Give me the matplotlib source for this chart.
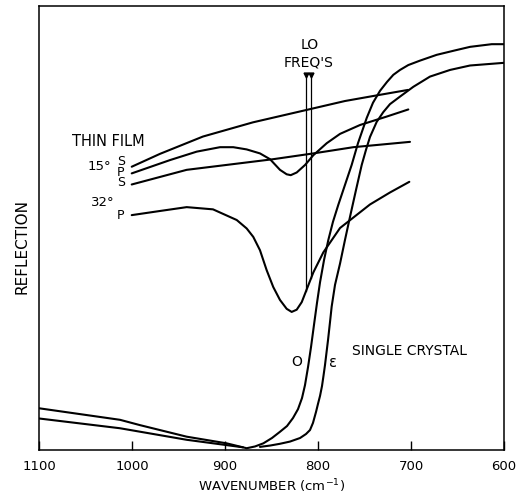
import numpy as np
import matplotlib
matplotlib.use("Agg")
import matplotlib.pyplot as plt

plt.rcParams['font.family'] = ['DejaVu Sans']

# ---- data (wavenumber in cm^-1, reflection in arbitrary units 0-100) ----
# Thin film, 15 deg, s-polarisation
s15_wn = [1000.3, 969.9, 923.7, 869.9, 812.1, 771.0, 733.3, 703.2]
s15_r = [63.8, 66.7, 70.6, 73.8, 76.6, 78.6, 80.0, 81.1]

# Thin film, 15 deg, p-polarisation
p15_wn = [1000.3, 959.1, 930.4, 905.4, 891.1, 876.7, 862.4, 851.6, 840.9,
          833.7, 829.3, 822.9, 813.9, 805.0, 790.6, 776.3, 754.8, 726.1, 702.9]
p15_r = [62.3, 65.3, 67.2, 68.2, 68.2, 67.7, 66.8, 65.5, 63.1,
         62.1, 61.9, 62.5, 64.2, 66.4, 69.1, 71.2, 73.2, 75.1, 76.7]

# Thin film, 32 deg, s-polarisation
s32_wn = [1000.3, 941.2, 848.1, 805.0, 762.0, 701.1]
s32_r = [59.8, 63.1, 65.5, 66.8, 68.2, 69.4]

# Thin film, 32 deg, p-polarisation
p32_wn = [1000.3, 971.0, 941.2, 912.9, 887.4, 876.7, 869.6, 862.4, 855.2,
          848.1, 840.9, 833.7, 828.3, 822.9, 817.5, 812.1, 805.0, 794.3,
          776.3, 744.1, 722.6, 701.8]
p32_r = [52.9, 53.8, 54.7, 54.2, 51.8, 49.9, 48.0, 45.0, 40.5,
         36.7, 33.8, 31.8, 31.1, 31.6, 33.3, 36.2, 40.0, 44.5,
         50.0, 55.3, 58.0, 60.4]

# Single crystal, ordinary ray (O)
o_wn = [1100, 1012.9, 991.4, 941.2, 898.2, 876.7, 867.7, 858.8, 849.5, 840.9,
        833.3, 826.9, 821.5, 817.2, 814.0, 810.7, 807.5, 804.3, 801.1, 797.8,
        793.5, 788.9, 783.9, 778.2, 771.0, 763.8, 757.0, 747.6, 740.9, 733.3,
        725.8, 719.0, 711.8, 702.9, 690.3, 672.4, 652.7, 636.5, 613.2, 600]
o_r = [9.4, 6.8, 5.6, 3.0, 1.5, 0.4, 0.8, 1.5, 2.7, 4.1,
       5.4, 7.2, 9.2, 11.7, 14.6, 18.7, 23.2, 28.2, 33.1, 37.8,
       42.8, 47.3, 51.4, 55.2, 59.7, 64.2, 69.1, 74.8, 78.2, 80.9,
       82.9, 84.5, 85.6, 86.7, 87.7, 89.0, 90.0, 90.8, 91.4, 91.4]

# Single crystal, extraordinary ray (epsilon): low-frequency tail and rising edge
e_low_wn = [1100, 1012.9, 941.2, 898.2, 880.6]
e_low_r = [7.1, 4.9, 2.3, 1.1, 0.6]
e_wn = [862.4, 851.6, 840.9, 830.1, 819.3, 812.9, 808.6, 805.4, 802.1, 800.0,
        797.8, 795.7, 794.1, 792.5, 791.4, 789.2, 787.1, 785.3, 781.7, 776.3,
        771.0, 765.6, 759.1, 753.0, 748.4, 744.1, 736.9, 729.8, 722.6, 711.8,
        697.5, 679.6, 658.0, 636.5, 600]
e_r = [0.7, 1.0, 1.4, 1.9, 2.7, 3.6, 4.5, 6.1, 8.6, 10.4,
       12.2, 14.4, 16.7, 19.1, 21.0, 24.8, 28.8, 32.3, 37.2, 42.0,
       47.3, 52.5, 58.6, 64.2, 67.6, 70.5, 73.9, 76.1, 77.9, 79.6,
       81.8, 84.1, 85.6, 86.6, 87.2]

# Longitudinal optical (LO) frequencies
lo_wn = [812.9, 807.2]
lo_top = 84.5

xticks = [1100, 1000, 900, 800, 700, 600]
xtick_labels = ['1100', '1000', '900', '800', '700', '600']

# ---- figure ----
W, H = 524, 498
fig = plt.figure(figsize=(W / 100, H / 100), dpi=100)
ax = fig.add_axes([39 / W, (H - 450) / H, (504 - 39) / W, (450 - 6) / H])

lw = 1.5
kw = dict(color='black', lw=lw, solid_capstyle='round', solid_joinstyle='round')
ax.plot(s15_wn, s15_r, **kw)
ax.plot(p15_wn, p15_r, **kw)
ax.plot(s32_wn, s32_r, **kw)
ax.plot(p32_wn, p32_r, **kw)
ax.plot(o_wn, o_r, **kw)
ax.plot(e_low_wn, e_low_r, **kw)
ax.plot(e_wn, e_r, **kw)

# LO frequency markers: vertical lines down to the 32 deg p curve
p32_wn_arr = np.array(p32_wn)[::-1]
p32_r_arr = np.array(p32_r)[::-1]
for w in lo_wn:
    bottom = np.interp(w, p32_wn_arr, p32_r_arr)
    ax.plot([w, w], [bottom, lo_top], color='black', lw=0.9)
    ax.plot([w], [lo_top], marker='v', color='black', markersize=3.5)

ax.set_xlim(1100, 600)
ax.set_ylim(0, 100)
ax.set_xticks(xticks)
ax.set_xticklabels(xtick_labels, fontsize=9.5)
ax.set_yticks([])
ax.tick_params(axis='x', direction='in', length=6.5, width=1.0, pad=7)
for sp in ax.spines.values():
    sp.set_linewidth(1.1)

ax.set_xlabel('WAVENUMBER (cm$^{-1}$)', fontsize=9.5)
ax.xaxis.label.set_va('center')
ax.xaxis.set_label_coords(0.5, -(486 - 450) / 444)
ax.set_ylabel('REFLECTION', fontsize=11)
ax.yaxis.label.set_va('center')
ax.yaxis.set_label_coords((22.5 - 39) / 465, (450 - 246) / 444)


def ftext(px, py, s, size=10, **extra):
    fig.text(px / W, 1 - py / H, s, fontsize=size, ha='center', va='center',
             **extra)


ftext(108.5, 142, 'THIN FILM', 10.5)
ftext(99.5, 166, '15°', 9.5)
ftext(121, 172, 'S\nP\nS', 9, linespacing=0.72)
ftext(102.5, 202.5, '32°', 9.5)
ftext(121, 215, 'P', 9)
ftext(310, 45, 'LO', 10)
ftext(309, 62.5, "FREQ'S", 10)
ftext(409, 351, 'SINGLE CRYSTAL', 10)
ftext(297, 362, 'O', 10)
ftext(333, 362, 'ε', 10.5)

fig.savefig('out.png', dpi=100)
